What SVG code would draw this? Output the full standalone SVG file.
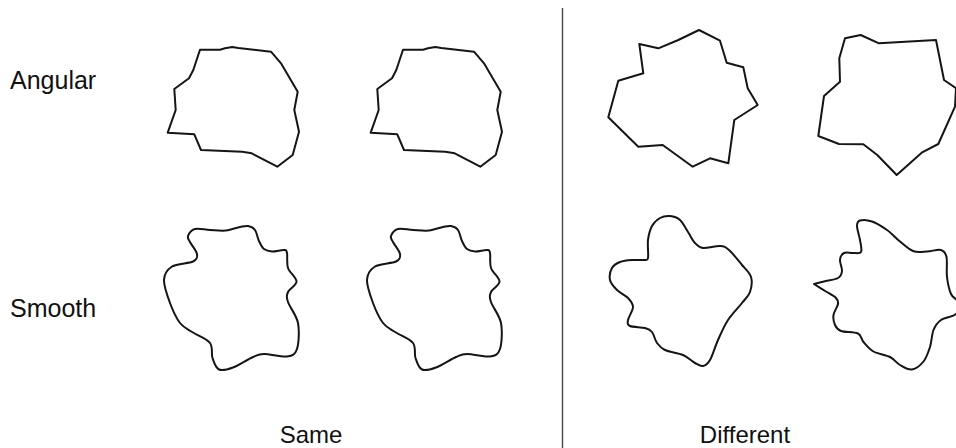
<svg xmlns="http://www.w3.org/2000/svg" width="956" height="448" viewBox="0 0 956 448">
<style>
.shape{fill:none;stroke:#151515;stroke-width:2;stroke-linejoin:round}
.lbl{font-family:"Liberation Sans",Arial,sans-serif;font-size:24px;fill:#111}
.side{font-size:25px}
</style>
<defs>
<polygon id="angSame" points="200,49.7 220,49.7 225,48.3 232.3,47 238.3,48 271,51.7 281,63.3 297.7,91.7 294.3,110 299,131.7 292.7,155 277.3,166.7 251.7,153.3 242.3,151.7 201,150 194.3,134.3 167.7,132.7 175.7,110 174.3,89 189,78.3 193.3,70"/>
<path id="smSame" d="M188,236 C188.8,233.8 191.3,230 195,229 S204.8,229.75 210,230 S221,231 226,230.5 S236.3,227.75 240,227 S245.5,225.5 248,226 S253.2,227.5 255,230 S257.5,237.8 259,241 S261.8,247.25 264,249 S268.7,251.3 272,251.5 S281.5,249.75 284,250 S286.3,250 287,253 S286.4,263.25 288,268 S296.5,277.5 296.5,281.5 S289.4,288.6 288,292 S286.3,296.8 288,302 S296.5,315.2 298,323 S298.8,343.4 297,349 S292.5,355.7 287,356.5 S269.7,353.9 264,354 S258.2,354.75 253,357 S238.7,365.4 233,367.5 S222.4,371.1 219,369.5 S214,362.4 212.5,358 S213.25,347.25 210,343 S198,335.8 193,332.5 S183.8,327.9 180,323 S172.7,310.2 170,303 S163.7,286.1 164,280 S167.2,269.6 172,266.5 S188.8,263.6 193,261.5 S197.5,257.25 197,254 S191.5,245 190,242 S187.2,238.2 188,236 Z"/>
</defs>
<line x1="562.5" y1="8" x2="562.5" y2="448" stroke="#444" stroke-width="1.4"/>
<g id="angular-same-1"><use href="#angSame" class="shape"/></g>
<g id="angular-same-2"><use href="#angSame" class="shape" transform="translate(203,0)"/></g>
<g id="angular-diff-1"><polygon class="shape" points="639.3,44 658.3,48.3 678.3,40 699,30 720,40.7 726.7,62.7 743.3,67.3 747.7,88.3 757.7,105 734.3,120 728.3,163.3 710,158.3 692.7,166.7 662.7,145 638.3,146.7 608.3,117.3 618.3,80.7 643.3,73.3"/></g>
<g id="angular-diff-2"><polygon class="shape" points="845,38.3 860.7,35 879,43.3 936,40 944,80 956,88.3 955,106.7 938.3,144 921.7,152.7 896.7,175 877.3,155 863.3,144.3 839,144 818.3,136 824,96 840,81.7 839.3,58.3"/></g>
<g id="smooth-same-1"><use href="#smSame" class="shape"/></g>
<g id="smooth-same-2"><use href="#smSame" class="shape" transform="translate(203,0)"/></g>
<g id="smooth-diff-1"><path class="shape" d="M648,258 C648.7,254.7 647.3,245.3 648,240 S650,229.7 652,226 S657,219.7 660,218 S666.7,215.7 670,216 S677,217.3 680,220 S685.5,228.2 688,232 S692.5,240.3 695,243 S698.8,247.5 703,248 S715.7,245.7 720,246 S725.3,246.8 729,250 S738.3,260.5 742,265 S749.7,272.5 751,277 S751.5,287.7 750,292 S745.7,298.3 742,303 S732,313.8 728,320 S721,333.3 718,340 S712.5,355.7 710,360 S705.5,365.5 703,366 S698.3,364.8 695,363 S688,357.2 683,355 S669.3,352 665,350 S659.2,346 657,343 S654,334.5 652,332 S648.7,329 645,328 S632.8,327.3 630,326 S627.5,323.2 628,320 S633,310.7 633,307 S630.7,300.8 628,298 S620,293 617,290 S610.8,283.7 610,280 S610.3,271 612,268 S616.7,263.3 620,262 S628,260.3 632,260 S641.3,260.3 644,260 S647.3,261.3 648,258 Z"/></g>
<g id="smooth-diff-2"><path class="shape" d="M861,252 C862.2,249.8 860.7,244.3 860,240 S857,229.25 857,226 S857.5,221.25 860,220.5 S867.5,219.9 872,221.5 S882.3,226.7 887,230 S895.7,238 900,241.5 S908.5,249.3 913,251 S922.3,251.7 927,251.5 S937.75,249.1 941,250 S945.5,252.5 946.5,257 S946.25,270.8 947,277 S949.2,289.8 951,294 S957.2,298.7 958,302 S958.8,311 956,314 S944.75,317.3 941,320 S935.3,325.5 933.5,330 S931.7,341.75 930,347 S926.5,357.75 923.5,361.5 S915.9,368.9 912,369.5 S903.7,367.1 900,365 S894.4,359.25 890,357 S877.9,354 873.5,351.5 S866.1,345 863.5,342 S861.75,335.3 858,333.5 S844.8,332.4 841,331 S836.25,327.7 835,325 S833,318.5 833.5,315 S837.6,306.8 838,304 S838,300.1 836,298 S829.7,293.8 826,291.5 S814,284 814,284 S820,282.5 824,281.5 S835,279.75 838,278 S841.7,274 842,271 S839.7,263 840,260 S841.8,254.2 844,253 S850.2,253.2 853,253 S859.8,254.2 861,252 Z"/></g>
<text class="lbl side" x="10" y="89">Angular</text>
<text class="lbl side" x="10" y="317">Smooth</text>
<text class="lbl" x="311" y="443" text-anchor="middle">Same</text>
<text class="lbl" x="745" y="443" text-anchor="middle">Different</text>
</svg>
